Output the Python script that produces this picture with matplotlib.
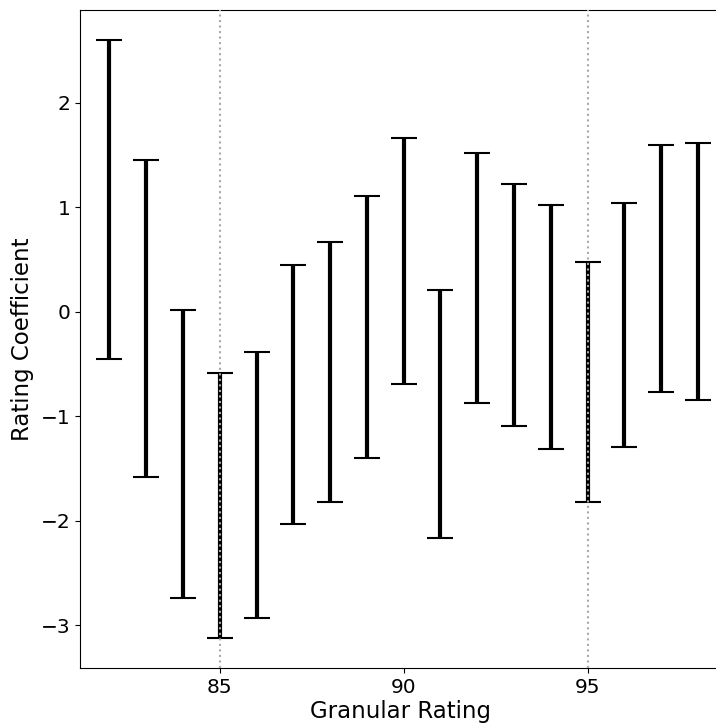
import matplotlib
matplotlib.use("Agg")
import matplotlib.pyplot as plt
import numpy as np

ratings = [82, 83, 84, 85, 86, 87, 88, 89, 90, 91, 92, 93, 94, 95, 96, 97, 98]
upper = [2.60, 1.455, 0.02, -0.59, -0.383, 0.45, 0.673, 1.11, 1.662, 0.213,
         1.525, 1.228, 1.024, 0.481, 1.04, 1.601, 1.62]
lower = [-0.455, -1.585, -2.74, -3.12, -2.93, -2.03, -1.82, -1.40, -0.69, -2.163,
         -0.871, -1.097, -1.311, -1.82, -1.298, -0.766, -0.842]
marked = [85, 95]

x = np.array(ratings, dtype=float)
up = np.array(upper)
lo = np.array(lower)
mid = (up + lo) / 2
half = (up - lo) / 2

fig = plt.figure(figsize=(7.16, 7.23), dpi=100)
ax = fig.add_axes([80 / 716, 55 / 723, 640 / 716, 658 / 723])

ax.errorbar(x, mid, yerr=half, fmt='none', ecolor='black', elinewidth=3,
            capsize=9.4, capthick=1.5, zorder=2)
for m in marked:
    ax.axvline(m, color='darkgray', linestyle=':', linewidth=1.5, zorder=3)

ax.set_xlim(81.2, 98.6)
ax.set_ylim(-3.41, 2.89)
ax.set_xticks([85, 90, 95])
ax.set_yticks([-3, -2, -1, 0, 1, 2])
ax.tick_params(labelsize=14.5)
ax.set_xlabel("Granular Rating", fontsize=16.5, labelpad=2.5)
ax.set_ylabel("Rating Coefficient", fontsize=16.5, labelpad=4.5)

fig.savefig("out.png", dpi=100)
